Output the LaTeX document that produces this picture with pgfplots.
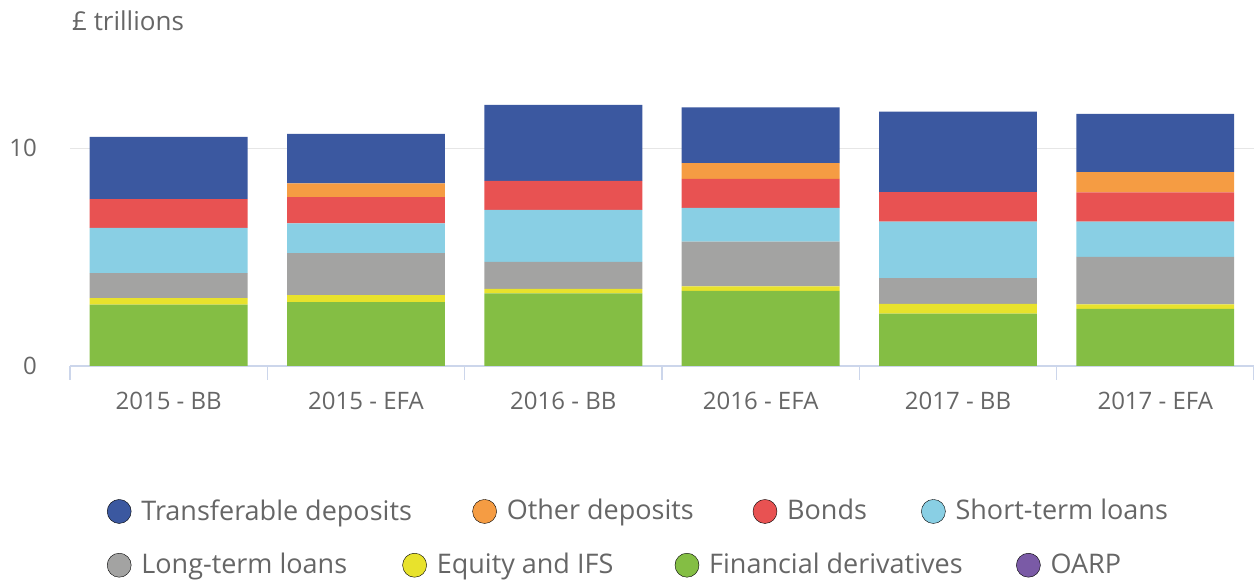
\documentclass[border=0pt]{standalone}
\usepackage{fontspec}
\setmainfont{Open Sans}
\usepackage{pgfplots}
\pgfplotsset{compat=1.18}
\definecolor{transf}{HTML}{3B58A0}
\definecolor{otherdep}{HTML}{F59C43}
\definecolor{bonds}{HTML}{E85252}
\definecolor{shortl}{HTML}{89CFE4}
\definecolor{longl}{HTML}{A3A3A2}
\definecolor{equity}{HTML}{E8E22C}
\definecolor{findiv}{HTML}{84BE44}
\definecolor{oarp}{HTML}{7A5AA6}
\definecolor{txt}{HTML}{666666}
\definecolor{axisblue}{HTML}{CCD6EB}
\definecolor{gridgray}{HTML}{E6E6E6}

\pgfplotsset{
  dotlegend/.style={
    legend columns=4,
    legend cell align=left,
    legend image code/.code={\fill[##1] (0pt,-1pt) circle (12pt);},
    legend style={draw=none, fill=none, inner sep=0pt, outer sep=0pt,
      anchor=west, font=\fontsize{27}{31}\selectfont, text=txt,
      nodes={inner sep=0pt},
      /tikz/every odd column/.append style={column sep=10pt}},
  },
}

\begin{document}
\begin{tikzpicture}
\path[use as bounding box] (0pt,0pt) rectangle (1254pt,580pt);
\node[anchor=base west, inner sep=0pt, text=txt, font=\fontsize{26}{30}\selectfont]
  at (72pt,549pt) {£ trillions};

\begin{axis}[
  at={(70pt,214pt)}, anchor=south west,
  scale only axis, width=1184pt, height=283pt,
  ybar stacked, bar width=0.8,
  xmin=-0.5, xmax=5.5, ymin=0, ymax=13,
  xtick={0,...,5},
  xticklabels={2015 - BB, 2015 - EFA, 2016 - BB, 2016 - EFA, 2017 - BB, 2017 - EFA},
  minor xtick={-0.5,0.5,...,5.5},
  ytick={0,10},
  major tick length=0pt, minor tick length=14pt, tick align=outside,
  minor tick style={axisblue, line width=1.5pt},
  axis x line*=bottom, axis y line*=left,
  x axis line style={axisblue, line width=1.5pt},
  y axis line style={draw=none},
  ymajorgrids, grid style={gridgray, line width=1.5pt},
  xticklabel style={anchor=base, yshift=-44pt, text=txt, font=\fontsize{24}{28}\selectfont},
  yticklabel style={anchor=east, inner sep=0pt, xshift=-33pt, text=txt, font=\fontsize{24}{28}\selectfont},
  /pgf/number format/assume math mode=true,
  dotlegend,
  legend style={at={(axis description cs:0.03125,-0.514)}},
]
\addplot[fill=findiv, draw=none, forget plot] coordinates {(0,2.82)(1,2.93)(2,3.34)(3,3.45)(4,2.40)(5,2.62)};
\addplot[fill=equity, draw=none, forget plot] coordinates {(0,0.30)(1,0.32)(2,0.20)(3,0.21)(4,0.45)(5,0.21)};
\addplot[fill=longl, draw=none, forget plot] coordinates {(0,1.15)(1,1.94)(2,1.24)(3,2.05)(4,1.19)(5,2.18)};
\addplot[fill=shortl, draw=none, forget plot] coordinates {(0,2.07)(1,1.36)(2,2.39)(3,1.55)(4,2.59)(5,1.62)};
\addplot[fill=bonds, draw=none, forget plot] coordinates {(0,1.33)(1,1.21)(2,1.33)(3,1.33)(4,1.36)(5,1.35)};
\addplot[fill=otherdep, draw=none, forget plot] coordinates {(0,0)(1,0.63)(2,0)(3,0.73)(4,0)(5,0.93)};
\addplot[fill=transf, draw=none, forget plot] coordinates {(0,2.86)(1,2.27)(2,3.49)(3,2.56)(4,3.69)(5,2.67)};

\addlegendimage{fill=transf}
\addlegendentry{\makebox[331pt][l]{Transferable deposits}}
\addlegendimage{fill=otherdep}
\addlegendentry{\makebox[246pt][l]{Other deposits}}
\addlegendimage{fill=bonds}
\addlegendentry{\makebox[134pt][l]{Bonds}}
\addlegendimage{fill=shortl}
\addlegendentry{Short-term loans}
\end{axis}

\begin{axis}[
  at={(70pt,214pt)}, anchor=south west,
  scale only axis, width=1184pt, height=283pt,
  xmin=0, xmax=1, ymin=0, ymax=1, hide axis,
  dotlegend,
  legend style={at={(axis description cs:0.03125,-0.704)}},
]
\addlegendimage{fill=longl}
\addlegendentry{\makebox[261pt][l]{Long-term loans}}
\addlegendimage{fill=equity}
\addlegendentry{\makebox[238pt][l]{Equity and IFS}}
\addlegendimage{fill=findiv}
\addlegendentry{\makebox[307pt][l]{Financial derivatives}}
\addlegendimage{fill=oarp}
\addlegendentry{OARP}
\end{axis}
\end{tikzpicture}
\end{document}
